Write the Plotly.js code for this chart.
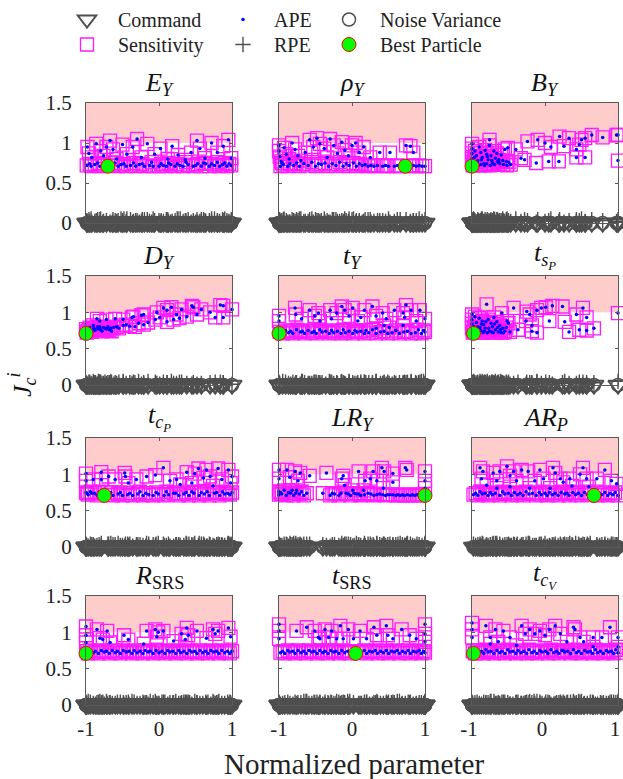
<!DOCTYPE html>
<html><head><meta charset="utf-8">
<script src="https://cdn.plot.ly/plotly-3.0.1.min.js"></script>
<style>html,body{margin:0;padding:0;background:#fff}#chart{width:623px;height:779px}</style>
</head><body><div id="chart"></div>
<script>
// ---------------- DATA ----------------
const panelTitles = [
  '<i>E</i><sub><i>Y</i></sub>', '<i>ρ</i><sub><i>Y</i></sub>', '<i>B</i><sub><i>Y</i></sub>',
  '<i>D</i><sub><i>Y</i></sub>', '<i>t</i><sub><i>Y</i></sub>', '<i>t</i><sub><i>s</i><sub><i>P</i></sub></sub>',
  '<i>t</i><sub><i>c</i><sub><i>P</i></sub></sub>', '<i>LR</i><sub><i>Y</i></sub>', '<i>AR</i><sub><i>P</i></sub>',
  '<i>R</i><sub>SRS</sub>', '<i>t</i><sub>SRS</sub>', '<i>t</i><sub><i>c</i><sub><i>V</i></sub></sub>'
];
const legendNames = ['Command', 'Sensitivity', 'APE', 'RPE', 'Noise Variance', 'Best Particle'];
const xTicks = [-1, 0, 1];
const xTickText = ['-1', '0', '1'];
const yTicks = [0, 0.5, 1, 1.5];
const yTickText = ['0', '0.5', '1', '1.5'];
const shadedJ = [1, 1.5];
const commandJ = 0;
const noiseJ = 0;

// particles: [normalized parameter, sensitivity/APE cost, RPE cost]
const EY = [[-0.98,0.95,0.02],[-0.96,0.87,0.04],[-0.92,0.82,0.01],[-0.86,0.99,0.03],[-0.8,0.9,0.05],[-0.76,0.84,0.02],[-0.72,0.95,0.03],[-0.67,1.03,0.01],[-0.63,0.92,0.04],[-0.58,0.8,0.02],[-0.5,0.98,0.03],[-0.44,0.86,0.05],[-0.36,0.95,0.01],[-0.3,1.05,0.03],[-0.24,0.82,0.02],[-0.16,0.99,0.04],[-0.06,0.86,0.03],[0.02,0.93,0.01],[0.12,0.8,0.04],[0.18,0.96,0.02],[0.26,0.85,0.05],[0.36,0.79,0.03],[0.44,0.88,0.01],[0.52,1.03,0.04],[0.56,0.93,0.02],[0.63,0.81,0.03],[0.72,1.0,0.05],[0.8,0.88,0.02],[0.88,0.96,0.03],[0.95,1.04,0.01],[0.99,0.81,0.04],
[-0.99,0.72,0.03],[-0.93,0.71,0.05],[-0.88,0.73,0.02],[-0.81,0.71,0.04],[-0.64,0.72,0.01],[-0.56,0.71,0.03],[-0.52,0.73,0.05],[-0.45,0.71,0.02],[-0.39,0.72,0.04],[-0.32,0.71,0.03],[-0.27,0.73,0.01],[-0.2,0.71,0.04],[-0.13,0.72,0.02],[-0.08,0.71,0.05],[0,0.71,0.03],[0.06,0.72,0.02],[0.1,0.71,0.04],[0.16,0.73,0.01],[0.22,0.71,0.03],[0.29,0.72,0.05],[0.33,0.71,0.02],[0.4,0.73,0.04],[0.47,0.71,0.03],[0.5,0.72,0.01],[0.58,0.71,0.04],[0.64,0.74,0.02],[0.69,0.71,0.03],[0.76,0.72,0.05],[0.83,0.71,0.02],[0.87,0.73,0.04],[0.93,0.71,0.03],[0.99,0.72,0.01]];
const rhoY = [[-1,0.97,0.03],[-1,0.9,0.01],[-0.99,0.83,0.04],[-0.97,0.77,0.02],[-0.93,0.94,0.05],[-0.9,0.86,0.03],[-0.86,0.8,0.01],[-0.82,1.0,0.04],[-0.78,0.92,0.02],[-0.74,0.84,0.03],[-0.7,0.78,0.05],[-0.64,0.88,0.02],[-0.58,1.04,0.04],[-0.53,0.95,0.01],[-0.48,1.06,0.03],[-0.44,0.99,0.02],[-0.38,0.93,0.05],[-0.34,0.82,0.03],[-0.3,1.05,0.01],[-0.25,0.97,0.04],[-0.2,0.87,0.02],[-0.14,1.01,0.03],[-0.1,0.91,0.05],[-0.05,0.84,0.02],[0,0.97,0.04],[0.05,1.0,0.01],[0.1,0.88,0.03],[0.16,0.95,0.02],[0.25,0.82,0.04],[0.38,0.88,0.03],[0.52,0.88,0.01],[0.74,0.97,0.04],[0.8,0.96,0.02],[0.84,0.88,0.03],
[-0.98,0.71,0.02],[-0.94,0.73,0.04],[-0.88,0.71,0.01],[-0.8,0.72,0.03],[-0.72,0.71,0.05],[-0.6,0.72,0.02],[-0.5,0.71,0.04],[-0.42,0.73,0.03],[-0.32,0.71,0.01],[-0.22,0.72,0.04],[-0.12,0.71,0.02],[-0.04,0.72,0.05],[0.06,0.71,0.03],[0.14,0.72,0.01],[0.22,0.71,0.04],[0.3,0.71,0.02],[0.42,0.71,0.03],[0.5,0.71,0.05],[0.58,0.71,0.02],[0.66,0.71,0.04],[0.8,0.71,0.01],[0.88,0.71,0.03],[0.96,0.71,0.02],[1,0.71,0.04]];
const BY = [[-1,0.99,0.03],[-1,0.93,0.01],[-1,0.87,0.04],[-1,0.8,0.02],[-0.98,0.76,0.05],[-0.96,0.9,0.03],[-0.94,0.84,0.01],[-0.92,0.78,0.04],[-0.9,0.95,0.02],[-0.88,0.88,0.03],[-0.86,0.82,0.05],[-0.84,0.74,0.02],[-0.82,0.91,0.04],[-0.8,0.86,0.01],[-0.78,0.79,0.03],[-0.76,0.97,0.02],[-0.74,0.84,0.04],[-0.72,0.75,0.03],[-0.7,0.9,0.05],[-0.68,0.81,0.01],[-0.66,0.87,0.04],[-0.64,0.76,0.02],[-0.6,0.85,0.03],[-0.58,0.78,0.05],[-0.55,0.92,0.02],[-0.53,0.77,0.04],[-0.95,0.73,0.01],[-0.88,0.73,0.03],[-0.8,0.74,0.02],[-0.7,0.73,0.04],[-0.62,0.74,0.03],
[-0.76,1.04,0.02],[-0.65,0.77,0.04],[-0.51,0.94,0.01],[-0.5,0.76,0.03],[-0.4,0.92,0.05],[-0.33,0.81,0.02],[-0.28,0.79,0.04],[-0.24,1.02,0.03],[-0.12,0.75,0.01],[-0.1,1.04,0.04],[0,1.0,0.02],[0.05,0.77,0.03],[0.08,0.95,0.05],[0.19,0.77,0.02],[0.2,1.08,0.04],[0.26,0.96,0.01],[0.33,1.06,0.03],[0.43,0.92,0.02],[0.43,0.82,0.04],[0.47,0.98,0.03],[0.5,1.04,0.05],[0.55,1.06,0.02],[0.55,0.82,0.01],[0.64,1.1,0.04],[0.79,1.07,0.03],[0.98,1.1,0.02],[1,1.1,0.04],[1,0.78,0.01]];
const DY = [[-1,0.77,0.03],[-0.98,0.74,0.01],[-0.95,0.79,0.04],[-0.93,0.75,0.02],[-0.9,0.82,0.05],[-0.87,0.76,0.03],[-0.84,0.8,0.01],[-0.8,0.76,0.04],[-0.76,0.79,0.02],[-0.7,0.8,0.03],[-0.66,0.78,0.05],
[-0.89,0.78,0.02],[-0.81,0.8,0.04],[-0.72,0.77,0.01],[-0.65,0.74,0.03],[-0.58,0.8,0.02],[-0.49,0.82,0.04],[-0.33,0.8,0.03],[-0.28,0.85,0.05],[-0.21,0.83,0.02],[-0.05,0.9,0.04],[0.01,0.93,0.01],[0.11,0.87,0.03],[0.38,0.94,0.02],[0.77,0.93,0.04],[0.88,0.93,0.03],
[-0.85,0.91,0.01],[-0.81,0.88,0.04],[-0.72,0.9,0.02],[-0.6,0.91,0.03],[-0.49,0.9,0.05],[-0.37,0.93,0.02],[-0.35,0.94,0.04],[-0.24,0.96,0.01],[-0.21,0.97,0.03],[-0.03,1.0,0.02],[0.06,1.06,0.04],[0.11,1.03,0.03],[0.17,1.07,0.05],[0.24,0.97,0.02],[0.31,1.04,0.04],[0.45,1.09,0.01],[0.47,1.07,0.03],[0.58,1.04,0.02],[0.84,1.1,0.04],[0.88,1.09,0.03],[1,1.04,0.01]];
const tY = [[-1,0.95,0.02],[-1,0.88,0.04],[-0.78,1.06,0.01],[-0.77,0.97,0.03],[-0.69,0.91,0.05],[-0.58,1.03,0.02],[-0.51,0.95,0.04],[-0.46,0.99,0.03],[-0.44,0.88,0.01],[-0.3,1.03,0.04],[-0.28,0.91,0.02],[-0.21,0.99,0.03],[-0.14,1.08,0.05],[-0.1,1.03,0.02],[-0.04,0.95,0.04],[0.01,1.06,0.01],[0.08,0.88,0.03],[0.12,0.93,0.02],[0.17,1.03,0.04],[0.28,1.08,0.03],[0.33,0.95,0.05],[0.42,0.99,0.02],[0.44,0.82,0.04],[0.47,0.91,0.01],[0.58,1.03,0.03],[0.7,0.99,0.02],[0.72,0.93,0.04],[0.74,1.1,0.03],[0.81,1.03,0.05],[0.88,0.88,0.02],[0.93,1.03,0.04],[1,0.91,0.01],[0.7,0.82,0.03],[0.51,0.79,0.02],[0.33,0.78,0.04],[0.19,0.75,0.03],
[-0.95,0.71,0.05],[-0.87,0.72,0.02],[-0.81,0.71,0.04],[-0.71,0.73,0.01],[-0.65,0.71,0.03],[-0.55,0.72,0.02],[-0.49,0.71,0.04],[-0.41,0.73,0.03],[-0.31,0.71,0.05],[-0.25,0.72,0.02],[-0.15,0.71,0.04],[-0.09,0.72,0.01],[0.01,0.71,0.03],[0.07,0.73,0.02],[0.17,0.71,0.04],[0.23,0.72,0.03],[0.33,0.71,0.05],[0.39,0.73,0.02],[0.49,0.71,0.04],[0.55,0.72,0.01],[0.65,0.71,0.03],[0.71,0.73,0.02],[0.81,0.71,0.04],[0.87,0.72,0.03],[0.95,0.71,0.05],[1,0.73,0.02]];
const tsP = [[-1,0.97,0.03],[-1,0.9,0.01],[-1,0.84,0.04],[-1,0.78,0.02],[-0.98,0.74,0.05],[-0.96,0.94,0.03],[-0.94,0.86,0.01],[-0.92,0.8,0.04],[-0.9,0.92,0.02],[-0.88,0.75,0.03],[-0.86,0.88,0.05],[-0.84,0.83,0.02],[-0.82,0.78,0.04],[-0.78,0.9,0.01],[-0.76,0.74,0.03],[-0.74,0.85,0.02],[-0.72,0.8,0.04],[-0.7,0.93,0.03],[-0.68,0.76,0.05],[-0.66,0.87,0.02],[-0.64,0.73,0.04],[-0.62,0.82,0.01],[-0.58,0.78,0.03],[-0.55,0.74,0.02],[-0.5,0.85,0.04],[-0.85,0.72,0.03],[-0.79,0.72,0.05],[-0.71,0.72,0.02],[-0.6,0.72,0.04],
[-0.8,1.11,0.01],[-0.59,0.99,0.03],[-0.43,1.06,0.02],[-0.25,1.01,0.04],[-0.21,0.97,0.03],[-0.11,1.03,0.05],[-0.05,1.06,0.02],[0.01,1.07,0.04],[0.1,1.09,0.01],[0.24,1.08,0.03],[0.43,0.97,0.02],[0.52,1.06,0.04],[0.57,0.93,0.03],[1,0.99,0.05],
[-0.52,0.88,0.02],[-0.37,0.76,0.04],[-0.26,0.88,0.01],[-0.18,0.82,0.03],[-0.18,0.74,0.02],[-0.11,0.72,0.04],[0.06,0.88,0.03],[0.27,0.87,0.05],[0.33,0.73,0.02],[0.47,0.76,0.04],[0.57,0.75,0.01],[0.67,0.78,0.03]];
const tcP = [[-1,1.01,0.02],[-1,0.91,0.04],[-1,0.75,0.01],[-0.9,0.93,0.03],[-0.79,1.03,0.05],[-0.79,0.93,0.02],[-0.69,0.97,0.04],[-0.6,0.93,0.03],[-0.47,1.02,0.01],[-0.46,0.97,0.04],[-0.42,0.88,0.02],[-0.31,0.93,0.03],[-0.17,0.97,0.05],[-0.05,0.99,0.02],[0.06,1.09,0.04],[0.15,0.91,0.01],[0.24,0.93,0.03],[0.29,0.86,0.02],[0.38,1.03,0.04],[0.45,0.88,0.03],[0.49,1.01,0.05],[0.54,1.08,0.02],[0.61,0.95,0.04],[0.65,1.06,0.01],[0.7,0.97,0.03],[0.74,0.84,0.02],[0.81,1.08,0.04],[0.86,0.93,0.03],[0.95,1.06,0.05],[0.98,0.88,0.02],[1,0.97,0.04],
[-0.97,0.72,0.01],[-0.92,0.74,0.03],[-0.85,0.71,0.02],[-0.7,0.72,0.04],[-0.63,0.71,0.03],[-0.56,0.73,0.05],[-0.5,0.71,0.02],[-0.43,0.72,0.04],[-0.36,0.71,0.01],[-0.29,0.73,0.03],[-0.22,0.71,0.02],[-0.14,0.72,0.04],[-0.08,0.71,0.03],[-0.01,0.73,0.05],[0.07,0.71,0.02],[0.13,0.72,0.04],[0.2,0.74,0.01],[0.27,0.71,0.03],[0.34,0.73,0.02],[0.41,0.71,0.04],[0.48,0.74,0.03],[0.55,0.71,0.05],[0.62,0.73,0.02],[0.69,0.71,0.04],[0.76,0.74,0.01],[0.83,0.71,0.03],[0.9,0.73,0.02],[0.97,0.72,0.04],[1,0.75,0.03]];
const LRY = [[-1,1.06,0.02],[-1,0.94,0.04],[-1,0.76,0.01],[-0.89,1.06,0.03],[-0.85,0.96,0.05],[-0.78,1.04,0.02],[-0.71,1.02,0.04],[-0.74,0.91,0.03],[-0.76,0.78,0.01],[-0.58,0.98,0.04],[-0.35,1.02,0.02],[-0.4,0.74,0.03],[-0.14,0.94,0.05],[-0.12,0.98,0.02],[-0.1,0.85,0.04],[0.01,0.78,0.01],[0.09,1.04,0.03],[0.18,0.91,0.02],[0.25,0.94,0.04],[0.29,1.04,0.03],[0.34,0.91,0.05],[0.41,1.09,0.02],[0.44,1.04,0.04],[0.56,0.89,0.01],[0.56,1.01,0.03],[0.73,1.09,0.02],[0.75,1.06,0.04],[1,1.04,0.03],[1,0.91,0.05],[1,0.81,0.02],[0.43,0.81,0.04],[0.16,0.78,0.01],
[-1,0.72,0.03],[-0.96,0.73,0.02],[-0.9,0.71,0.04],[-0.84,0.74,0.03],[-0.8,0.71,0.05],[-0.72,0.73,0.02],[-0.66,0.71,0.04],[-0.3,0.71,0.01],[-0.24,0.73,0.03],[-0.18,0.71,0.02],[-0.08,0.74,0.04],[-0.02,0.71,0.03],[0.06,0.73,0.05],[0.12,0.71,0.02],[0.22,0.74,0.04],[0.3,0.71,0.01],[0.38,0.73,0.03],[0.46,0.71,0.02],[0.52,0.72,0.04],[0.6,0.71,0.03],[0.66,0.71,0.05],[0.72,0.71,0.02],[0.8,0.71,0.04],[0.86,0.71,0.01],[0.92,0.71,0.03],[0.96,0.72,0.02]];
const ARP = [[-0.89,1.09,0.02],[-0.85,1.04,0.04],[-0.87,0.94,0.01],[-0.8,0.85,0.03],[-0.71,1.02,0.05],[-0.66,0.91,0.02],[-0.62,1.04,0.04],[-0.52,1.11,0.03],[-0.48,0.98,0.01],[-0.43,1.04,0.04],[-0.39,0.91,0.02],[-0.32,1.06,0.03],[-0.23,1.04,0.05],[-0.14,0.91,0.02],[-0.07,1.06,0.04],[-0.02,0.94,0.01],[0.11,1.09,0.03],[0.14,1.02,0.02],[0.21,0.94,0.04],[0.25,0.89,0.03],[0.34,0.94,0.05],[0.48,1.0,0.02],[0.52,1.09,0.04],[0.57,0.94,0.01],[0.71,0.94,0.03],[0.82,1.06,0.02],[0.91,0.91,0.04],[0.98,0.87,0.03],[-0.66,0.81,0.05],[-0.48,0.83,0.02],[-0.21,0.81,0.04],[0.07,0.81,0.01],[0.37,0.84,0.03],[0.6,0.83,0.02],
[-0.98,0.72,0.04],[-0.92,0.71,0.03],[-0.86,0.73,0.05],[-0.78,0.71,0.02],[-0.72,0.72,0.04],[-0.62,0.71,0.01],[-0.55,0.73,0.03],[-0.46,0.71,0.02],[-0.38,0.72,0.04],[-0.3,0.71,0.03],[-0.22,0.73,0.05],[-0.12,0.71,0.02],[-0.05,0.72,0.04],[0.03,0.71,0.01],[0.1,0.72,0.03],[0.18,0.71,0.02],[0.27,0.73,0.04],[0.33,0.71,0.03],[0.42,0.72,0.05],[0.5,0.71,0.02],[0.58,0.72,0.04],[0.72,0.71,0.01],[0.78,0.72,0.03],[0.86,0.71,0.02],[0.93,0.72,0.04],[1,0.71,0.03]];
const RSRS = [[-1,1.08,0.02],[-1,0.96,0.04],[-1,0.86,0.01],[-0.85,1.04,0.03],[-0.81,0.92,0.05],[-0.71,1.02,0.02],[-0.77,0.9,0.04],[-0.67,0.86,0.03],[-0.48,0.96,0.01],[-0.42,0.9,0.04],[-0.21,0.84,0.02],[-0.17,1.02,0.03],[-0.05,1.04,0.05],[-0.01,1.0,0.02],[0.06,1.02,0.04],[-0.03,0.94,0.01],[0.31,0.98,0.03],[0.38,1.06,0.02],[0.4,0.96,0.04],[0.52,1.02,0.03],[0.74,1.04,0.05],[0.77,0.98,0.02],[0.81,1.02,0.04],[0.95,1.06,0.01],[0.98,0.94,0.03],[0.65,0.92,0.02],[0.36,0.9,0.04],[0.2,0.88,0.03],
[-0.97,0.71,0.05],[-0.9,0.72,0.02],[-0.83,0.71,0.04],[-0.75,0.73,0.01],[-0.68,0.71,0.03],[-0.6,0.72,0.02],[-0.53,0.71,0.04],[-0.45,0.73,0.03],[-0.37,0.71,0.05],[-0.3,0.72,0.02],[-0.22,0.71,0.04],[-0.15,0.73,0.01],[-0.08,0.71,0.03],[0,0.72,0.02],[0.08,0.71,0.04],[0.15,0.73,0.03],[0.23,0.71,0.05],[0.3,0.72,0.02],[0.38,0.71,0.04],[0.45,0.73,0.01],[0.52,0.71,0.03],[0.6,0.72,0.02],[0.67,0.71,0.04],[0.75,0.73,0.03],[0.82,0.71,0.05],[0.9,0.72,0.02],[0.97,0.71,0.04],[1,0.74,0.01]];
const tSRS = [[-1,1.11,0.03],[-1,1.02,0.01],[-1,0.91,0.04],[-0.76,1.02,0.02],[-0.62,1.07,0.05],[-0.51,1.02,0.03],[-0.46,0.93,0.01],[-0.37,1.04,0.04],[-0.32,0.93,0.02],[-0.28,1.02,0.03],[-0.21,0.91,0.05],[-0.16,1.09,0.02],[-0.12,0.91,0.04],[-0.05,1.04,0.01],[0.02,0.91,0.03],[0.11,1.02,0.02],[0.2,0.91,0.04],[0.3,1.07,0.03],[0.34,0.96,0.05],[0.47,1.09,0.02],[0.56,0.91,0.04],[0.68,1.04,0.01],[0.79,0.96,0.03],[0.88,0.91,0.02],[1,1.11,0.04],[1,0.98,0.03],[1,0.87,0.05],[0.49,0.96,0.02],[-0.44,0.91,0.04],
[-0.98,0.72,0.01],[-0.92,0.71,0.03],[-0.85,0.73,0.02],[-0.78,0.71,0.04],[-0.7,0.72,0.03],[-0.63,0.71,0.05],[-0.55,0.73,0.02],[-0.48,0.71,0.04],[-0.4,0.72,0.01],[-0.33,0.71,0.03],[-0.25,0.73,0.02],[-0.18,0.71,0.04],[-0.1,0.72,0.03],[-0.03,0.71,0.05],[0.13,0.72,0.02],[0.2,0.71,0.04],[0.28,0.73,0.01],[0.35,0.71,0.03],[0.43,0.72,0.02],[0.5,0.71,0.04],[0.58,0.73,0.03],[0.65,0.71,0.05],[0.73,0.72,0.02],[0.8,0.71,0.04],[0.88,0.73,0.01],[0.95,0.71,0.03],[1,0.72,0.02]];
const tcV = [[-1,1.13,0.02],[-1,1.04,0.04],[-1,0.93,0.01],[-0.81,1.09,0.03],[-0.75,0.93,0.05],[-0.68,1.04,0.02],[-0.57,1.02,0.04],[-0.64,0.87,0.03],[-0.48,0.93,0.01],[-0.39,0.82,0.04],[-0.32,1.09,0.02],[-0.27,0.98,0.03],[-0.21,1.04,0.05],[-0.14,0.98,0.02],[-0.07,1.02,0.04],[0,0.96,0.01],[0.06,1.04,0.03],[0.14,1.09,0.02],[0.21,0.98,0.04],[0.3,0.87,0.03],[0.39,1.07,0.05],[0.41,1.04,0.02],[0.48,0.93,0.04],[0.53,0.87,0.01],[0.66,0.93,0.03],[0.78,0.93,0.02],[0.89,1.07,0.04],[1,0.93,0.03],[1,0.8,0.05],[0.66,0.8,0.02],[0.25,0.75,0.04],[-0.75,0.84,0.01],
[-0.96,0.71,0.03],[-0.9,0.72,0.02],[-0.84,0.71,0.04],[-0.78,0.73,0.03],[-0.7,0.71,0.05],[-0.62,0.72,0.02],[-0.55,0.71,0.04],[-0.48,0.73,0.01],[-0.4,0.71,0.03],[-0.33,0.72,0.02],[-0.25,0.71,0.04],[-0.18,0.72,0.03],[-0.11,0.71,0.05],[-0.04,0.73,0.02],[0.04,0.71,0.04],[0.12,0.72,0.01],[0.19,0.71,0.03],[0.27,0.73,0.02],[0.35,0.71,0.04],[0.43,0.72,0.03],[0.5,0.71,0.05],[0.58,0.73,0.02],[0.65,0.71,0.04],[0.72,0.72,0.01],[0.8,0.71,0.03],[0.87,0.73,0.02],[0.94,0.71,0.04],[1,0.72,0.03]];

// additional particles in the dense low-cost band: [x, sensitivity/APE cost, RPE cost]
const EY_band = [[-0.95,0.74,0.02],[-0.84,0.75,0.04],[-0.77,0.73,0.01],[-0.6,0.75,0.03],[-0.48,0.74,0.05],[-0.35,0.75,0.02],[-0.23,0.74,0.04],[-0.1,0.76,0.01],[0.03,0.74,0.03],[0.13,0.75,0.02],[0.25,0.74,0.05],[0.37,0.76,0.03],[0.53,0.74,0.01],[0.61,0.75,0.04],[0.72,0.74,0.02],[0.8,0.76,0.03],[0.9,0.75,0.05],[0.96,0.74,0.02]];
const rhoY_band = [[-0.96,0.75,0.03],[-0.85,0.74,0.01],[-0.76,0.75,0.04],[-0.66,0.74,0.02],[-0.55,0.76,0.05],[-0.46,0.74,0.03],[-0.37,0.75,0.01],[-0.27,0.74,0.04],[-0.17,0.76,0.02],[-0.08,0.74,0.03],[0.02,0.75,0.05],[0.1,0.74,0.02],[0.18,0.73,0.04],[0.26,0.72,0.01],[0.35,0.72,0.03],[0.46,0.72,0.02],[0.62,0.72,0.04],[0.84,0.72,0.03],[0.92,0.72,0.05]];
const BY_band = [[-0.99,0.72,0.02],[-0.97,0.82,0.04],[-0.93,0.76,0.01],[-0.91,0.72,0.03],[-0.87,0.79,0.05],[-0.83,0.72,0.02],[-0.79,0.83,0.04],[-0.75,0.72,0.03],[-0.73,0.78,0.01],[-0.69,0.73,0.04],[-0.63,0.79,0.02],[-0.57,0.73,0.03],[-0.52,0.72,0.05],[-0.47,0.73,0.02]];
const DY_band = [[-0.99,0.72,0.02],[-0.96,0.76,0.04],[-0.92,0.73,0.01],[-0.88,0.75,0.03],[-0.83,0.77,0.05],[-0.78,0.74,0.02],[-0.74,0.78,0.04],[-0.68,0.76,0.03],[-0.62,0.79,0.01],[-0.55,0.78,0.04],[-0.45,0.83,0.02],[-0.4,0.81,0.03],[-0.15,0.86,0.05],[0.2,0.9,0.02],[0.28,0.92,0.04],[0.52,0.97,0.01],[0.7,1.0,0.03]];
const tY_band = [[-0.99,0.73,0.02],[-0.91,0.75,0.04],[-0.84,0.74,0.01],[-0.76,0.76,0.03],[-0.68,0.74,0.05],[-0.6,0.75,0.02],[-0.52,0.74,0.04],[-0.44,0.76,0.03],[-0.36,0.74,0.01],[-0.28,0.75,0.04],[-0.2,0.74,0.02],[-0.12,0.76,0.03],[-0.04,0.74,0.05],[0.04,0.75,0.02],[0.12,0.74,0.04],[0.28,0.76,0.01],[0.44,0.74,0.03],[0.6,0.75,0.02],[0.76,0.74,0.04],[0.91,0.76,0.03],[0.98,0.75,0.05]];
const tsP_band = [[-0.99,0.72,0.02],[-0.97,0.8,0.04],[-0.95,0.76,0.01],[-0.93,0.72,0.03],[-0.89,0.79,0.05],[-0.87,0.84,0.02],[-0.83,0.74,0.04],[-0.81,0.87,0.03],[-0.77,0.78,0.01],[-0.73,0.73,0.04],[-0.69,0.84,0.02],[-0.65,0.79,0.03],[-0.61,0.76,0.05],[-0.57,0.72,0.02],[-0.53,0.79,0.04],[-0.48,0.73,0.01]];
const tcP_band = [[-0.99,0.74,0.02],[-0.94,0.76,0.04],[-0.88,0.74,0.01],[-0.82,0.76,0.03],[-0.66,0.75,0.05],[-0.53,0.75,0.02],[-0.4,0.74,0.04],[-0.26,0.76,0.03],[-0.18,0.74,0.01],[-0.04,0.75,0.04],[0.1,0.76,0.02],[0.23,0.74,0.03],[0.37,0.75,0.05],[0.45,0.76,0.02],[0.58,0.75,0.04],[0.66,0.76,0.01],[0.79,0.75,0.03],[0.87,0.76,0.02],[0.94,0.74,0.04]];
const LRY_band = [[-0.98,0.75,0.02],[-0.93,0.78,0.04],[-0.87,0.75,0.01],[-0.82,0.78,0.03],[-0.77,0.74,0.05],[-0.69,0.76,0.02],[-0.62,0.74,0.04],[-0.27,0.74,0.03],[-0.15,0.74,0.01],[-0.05,0.73,0.04],[0.03,0.74,0.02],[0.09,0.73,0.03],[0.17,0.72,0.05],[0.26,0.73,0.02],[0.34,0.72,0.04],[0.42,0.72,0.01],[0.49,0.72,0.03],[0.56,0.72,0.02],[0.63,0.72,0.04],[0.69,0.72,0.03],[0.76,0.72,0.05],[0.83,0.72,0.02],[0.89,0.72,0.04]];
const ARP_band = [[-0.95,0.74,0.02],[-0.89,0.76,0.04],[-0.82,0.74,0.01],[-0.75,0.75,0.03],[-0.68,0.74,0.05],[-0.58,0.76,0.02],[-0.5,0.74,0.04],[-0.42,0.75,0.03],[-0.34,0.74,0.01],[-0.26,0.76,0.04],[-0.17,0.74,0.02],[-0.08,0.75,0.03],[0,0.74,0.05],[0.06,0.75,0.02],[0.14,0.74,0.04],[0.22,0.75,0.01],[0.3,0.74,0.03],[0.38,0.75,0.02],[0.46,0.74,0.04],[0.54,0.75,0.03],[0.62,0.74,0.05],[0.75,0.74,0.02],[0.82,0.75,0.04],[0.89,0.74,0.01],[0.96,0.75,0.03]];
const RSRS_band = [[-0.99,0.74,0.02],[-0.94,0.75,0.04],[-0.87,0.74,0.01],[-0.79,0.75,0.03],[-0.72,0.74,0.05],[-0.64,0.75,0.02],[-0.57,0.74,0.04],[-0.49,0.75,0.03],[-0.41,0.74,0.01],[-0.34,0.75,0.04],[-0.26,0.74,0.02],[-0.19,0.75,0.03],[-0.12,0.74,0.05],[-0.04,0.75,0.02],[0.04,0.74,0.04],[0.12,0.75,0.01],[0.19,0.74,0.03],[0.27,0.75,0.02],[0.34,0.74,0.04],[0.42,0.75,0.03],[0.49,0.74,0.05],[0.56,0.75,0.02],[0.64,0.74,0.04],[0.71,0.75,0.01],[0.79,0.74,0.03],[0.86,0.75,0.02],[0.94,0.74,0.04]];
const tSRS_band = [[-0.95,0.74,0.02],[-0.88,0.75,0.04],[-0.81,0.74,0.01],[-0.74,0.75,0.03],[-0.66,0.74,0.05],[-0.59,0.75,0.02],[-0.52,0.74,0.04],[-0.44,0.75,0.03],[-0.37,0.74,0.01],[-0.29,0.75,0.04],[-0.22,0.74,0.02],[-0.14,0.75,0.03],[-0.06,0.74,0.05],[0.09,0.74,0.02],[0.17,0.75,0.04],[0.24,0.74,0.01],[0.32,0.75,0.03],[0.39,0.74,0.02],[0.47,0.75,0.04],[0.54,0.74,0.03],[0.62,0.75,0.05],[0.69,0.74,0.02],[0.77,0.75,0.04],[0.84,0.74,0.01],[0.92,0.75,0.03],[0.98,0.74,0.02]];
const tcV_band = [[-0.99,0.74,0.02],[-0.93,0.75,0.04],[-0.87,0.74,0.01],[-0.81,0.76,0.03],[-0.74,0.74,0.05],[-0.66,0.75,0.02],[-0.59,0.74,0.04],[-0.51,0.76,0.03],[-0.44,0.74,0.01],[-0.37,0.75,0.04],[-0.29,0.74,0.02],[-0.22,0.76,0.03],[-0.15,0.74,0.05],[-0.07,0.75,0.02],[0.01,0.74,0.04],[0.08,0.76,0.01],[0.16,0.74,0.03],[0.23,0.75,0.02],[0.31,0.74,0.04],[0.39,0.76,0.03],[0.46,0.74,0.05],[0.54,0.75,0.02],[0.62,0.74,0.04],[0.69,0.76,0.01],[0.76,0.74,0.03],[0.84,0.75,0.02],[0.91,0.74,0.04],[0.97,0.76,0.03]];

const panelData = [EY, rhoY, BY, DY, tY, tsP, tcP, LRY, ARP, RSRS, tSRS, tcV];
const panelBand = [EY_band, rhoY_band, BY_band, DY_band, tY_band, tsP_band, tcP_band, LRY_band, ARP_band, RSRS_band, tSRS_band, tcV_band];
const bestX = [-0.70, 0.73, -1, -1, -1, -0.98, -0.75, 1, 0.67, -1, 0.05, -0.98];
const bestJ = [0.71, 0.71, 0.71, 0.71, 0.71, 0.71, 0.71, 0.71, 0.71, 0.71, 0.71, 0.71];

// ---------------- LAYOUT / STYLE ----------------
const W = 623, H = 779;
const FONT = "'Liberation Serif', 'Times New Roman', serif";
const colL = [86, 279, 472], colR = [232, 425, 618];
const rowTop = [103, 276, 438, 596], rowBot = [223, 385, 547, 705];
const GREY = '#4f4f4f', AXC = '#5a5a5a';
// one legend box per entry: [left px, row]
const legendPos = [[56, 0], [56, 1], [212, 0], [212, 1], [318, 0], [318, 1]];

const traces = [];
const layout = {
  width: W, height: H, autosize: false,
  margin: {l: 0, r: 0, t: 0, b: 0},
  paper_bgcolor: '#fff', plot_bgcolor: '#fff',
  font: {family: FONT, size: 20, color: '#222'},
  shapes: [], annotations: []
};
const legendIds = ['legend', 'legend2', 'legend3', 'legend4', 'legend5', 'legend6'];
legendIds.forEach((id, k) => {
  layout[id] = {x: legendPos[k][0] / W, y: 1 - (legendPos[k][1] * 25) / H, xanchor: 'left', yanchor: 'top', itemwidth: 52,
    font: {family: FONT, size: 20, color: '#222'}, bgcolor: 'rgba(0,0,0,0)', tracegroupgap: 0};
});

panelData.forEach((d0, i) => {
  const d = d0.concat(panelBand[i]);
  const r = Math.floor(i / 3), c = i % 3;
  const s = i === 0 ? '' : String(i + 1);
  const xs = d.map(p => p[0]), js = d.map(p => p[1]), rp = d.map(p => p[2]);
  const base = {type: 'scatter', mode: 'markers', xaxis: 'x' + s, yaxis: 'y' + s, cliponaxis: false, hoverinfo: 'skip', showlegend: i === 0};
  traces.push(Object.assign({}, base, {name: legendNames[0], legend: 'legend', x: xs, y: xs.map(() => commandJ),
    marker: {symbol: 'triangle-down-open', size: 17, color: GREY, line: {width: 2, color: GREY}}}));
  traces.push(Object.assign({}, base, {name: legendNames[4], legend: 'legend5', x: xs, y: xs.map(() => noiseJ),
    marker: {symbol: 'circle-open', size: 13, color: GREY, line: {width: 1.5, color: GREY}}}));
  traces.push(Object.assign({}, base, {name: legendNames[3], legend: 'legend4', x: xs, y: rp,
    marker: {symbol: 'cross-thin-open', size: 11, color: GREY, line: {width: 1.4, color: GREY}}}));
  traces.push(Object.assign({}, base, {name: legendNames[1], legend: 'legend2', x: xs, y: js,
    marker: {symbol: 'square-open', size: 13, color: '#ff1aff', line: {width: 1.3, color: '#ff1aff'}}}));
  traces.push(Object.assign({}, base, {name: legendNames[2], legend: 'legend3', x: xs, y: js,
    marker: {symbol: 'circle', size: 3.5, color: '#0000ff', line: {width: 0}}}));
  traces.push(Object.assign({}, base, {name: legendNames[5], legend: 'legend6', x: [bestX[i]], y: [bestJ[i]],
    marker: {symbol: 'circle', size: 14, color: '#00ff00', line: {width: 1, color: '#ff0000'}}}));

  const axCommon = {showgrid: false, zeroline: false, showline: true, mirror: 'ticks', linecolor: AXC, linewidth: 1,
    ticks: 'inside', ticklen: 3, tickcolor: AXC, tickfont: {family: FONT, size: 21, color: '#222'}, fixedrange: true,
    ticklabeloverflow: 'allow'};
  layout['xaxis' + s] = Object.assign({}, axCommon, {domain: [colL[c] / W, colR[c] / W], anchor: 'y' + s, range: [-1, 1],
    tickmode: 'array', tickvals: xTicks, ticktext: xTickText, showticklabels: r === 3, ticklabelstandoff: 5,
    ticklabelshift: c === 2 ? -3 : 0});
  layout['yaxis' + s] = Object.assign({}, axCommon, {domain: [1 - rowBot[r] / H, 1 - rowTop[r] / H], anchor: 'x' + s, range: [0, 1.5],
    tickmode: 'array', tickvals: yTicks, ticktext: yTickText, showticklabels: c === 0, ticklabelstandoff: 9});

  layout.shapes.push({type: 'rect', xref: 'x' + s, yref: 'y' + s, x0: -1, x1: 1, y0: shadedJ[0], y1: shadedJ[1],
    fillcolor: '#ffcccc', line: {width: 0}, layer: 'below'});
  layout.annotations.push({text: panelTitles[i], xref: 'paper', yref: 'paper', x: (colL[c] + colR[c]) / 2 / W, y: 1 - rowTop[r] / H,
    xanchor: 'center', yanchor: 'bottom', yshift: 1, showarrow: false, font: {family: FONT, size: 26, color: '#111'}});
});

layout.annotations.push({text: '<i>J</i><sub><i>c</i></sub><sup><i>i</i></sup>', xref: 'paper', yref: 'paper', x: 22 / W, y: 1 - 385 / H,
  textangle: -90, showarrow: false, xanchor: 'center', yanchor: 'middle', font: {family: FONT, size: 26, color: '#111'}});
layout.annotations.push({text: 'Normalized parameter', xref: 'paper', yref: 'paper', x: 354 / W, y: 1 - 764 / H,
  showarrow: false, xanchor: 'center', yanchor: 'middle', font: {family: FONT, size: 29, color: '#222'}});

Plotly.newPlot('chart', traces, layout, {staticPlot: true, displayModeBar: false});
</script>
</body></html>
